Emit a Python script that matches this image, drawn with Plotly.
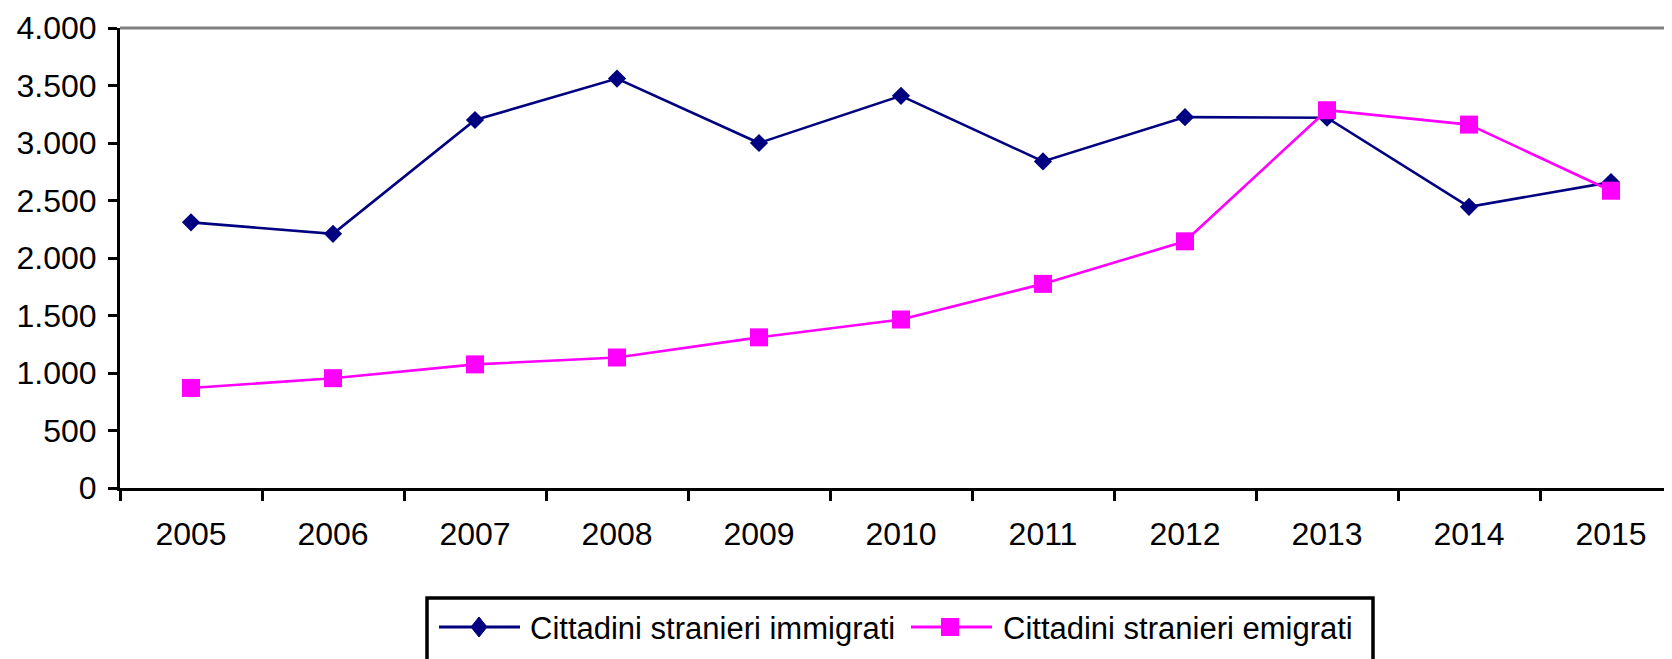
import plotly.graph_objects as go

# values
years = ["2005", "2006", "2007", "2008", "2009", "2010", "2011", "2012", "2013", "2014", "2015"]
immigrati = [2310, 2210, 3200, 3560, 3000, 3410, 2840, 3225, 3220, 2445, 2660]
emigrati = [870, 955, 1075, 1135, 1310, 1465, 1775, 2145, 3285, 3160, 2585]
series_names = ["Cittadini stranieri immigrati", "Cittadini stranieri emigrati"]
y_ticks = [0, 500, 1000, 1500, 2000, 2500, 3000, 3500, 4000]

NAVY = "#000080"
MAGENTA = "#FF00FF"
FONT = "Arial, Liberation Sans, sans-serif"

# the page body has an 8px margin, so the figure is drawn 8px in from the window
OFF = 8
W, H = 1672 - OFF, 659 - OFF
# plot area in window pixels
L, T, B, R = 120, 28, 488, 1672


def px_x(x):
    return (x - L) / (R - L)


def px_y(y):
    return (B - y) / (B - T)


fig = go.Figure()
fig.add_trace(go.Scatter(
    x=years, y=immigrati, name=series_names[0], mode="lines+markers",
    line=dict(color=NAVY, width=2.6),
    marker=dict(symbol="diamond", size=14, color=NAVY),
))
fig.add_trace(go.Scatter(
    x=years, y=emigrati, name=series_names[1], mode="lines+markers",
    line=dict(color=MAGENTA, width=2.6),
    marker=dict(symbol="square", size=18, color=MAGENTA),
))

shapes = [
    # grey top border of the plot area
    dict(type="line", xref="paper", yref="paper", x0=0, x1=1, y0=1, y1=1,
         line=dict(color="#808080", width=3)),
    # legend frame (runs off the bottom edge)
    dict(type="rect", xref="paper", yref="paper",
         x0=px_x(427), x1=px_x(1373), y0=px_y(598), y1=px_y(690),
         line=dict(color="black", width=3.5)),
    # legend item 1: line + diamond
    dict(type="line", xref="paper", yref="paper",
         x0=px_x(439), x1=px_x(520), y0=px_y(627), y1=px_y(627),
         line=dict(color=NAVY, width=3)),
    dict(type="path", xref="paper", yref="paper",
         path="M {0},{1} L {2},{3} L {0},{4} L {5},{3} Z".format(
             px_x(479), px_y(617), px_x(487), px_y(627), px_y(637), px_x(471)),
         fillcolor=NAVY, line=dict(color=NAVY, width=1)),
    # legend item 2: line + square
    dict(type="line", xref="paper", yref="paper",
         x0=px_x(911), x1=px_x(992), y0=px_y(627), y1=px_y(627),
         line=dict(color=MAGENTA, width=3)),
    dict(type="rect", xref="paper", yref="paper",
         x0=px_x(941), x1=px_x(959), y0=px_y(618), y1=px_y(636),
         fillcolor=MAGENTA, line=dict(color=MAGENTA, width=0)),
]

annotations = [
    dict(text=series_names[0], xref="paper", yref="paper", x=px_x(528), y=px_y(628),
         xanchor="left", yanchor="middle", showarrow=False,
         font=dict(family=FONT, size=31, color="black")),
    dict(text=series_names[1], xref="paper", yref="paper", x=px_x(1001), y=px_y(628),
         xanchor="left", yanchor="middle", showarrow=False,
         font=dict(family=FONT, size=31, color="black")),
]

fig.update_layout(
    width=W, height=H,
    margin=dict(l=L - OFF, r=0, t=T - OFF, b=H - (B - OFF), pad=0),
    paper_bgcolor="white", plot_bgcolor="white",
    showlegend=False,
    separators=",.",
    font=dict(family=FONT, size=32, color="black"),
    shapes=shapes,
    annotations=annotations,
)
# category width 142px -> range extends past the right edge like the cropped original
fig.update_xaxes(
    type="category", range=[-0.5, -0.5 + (R - L) / 142],
    showgrid=False, zeroline=False,
    showline=True, linecolor="black", linewidth=3,
    ticks="outside", ticklen=10, tickwidth=3, tickcolor="black",
    tickson="boundaries", ticklabelstandoff=16,
    tickfont=dict(family=FONT, size=32, color="black"),
)
fig.update_yaxes(
    range=[0, 4000], tickvals=y_ticks, tickformat=",d",
    showgrid=False, zeroline=False,
    showline=True, linecolor="black", linewidth=3,
    ticks="outside", ticklen=9, tickwidth=3, tickcolor="black",
    ticklabelstandoff=5,
    tickfont=dict(family=FONT, size=32, color="black"),
)

fig.write_html("out.html")
